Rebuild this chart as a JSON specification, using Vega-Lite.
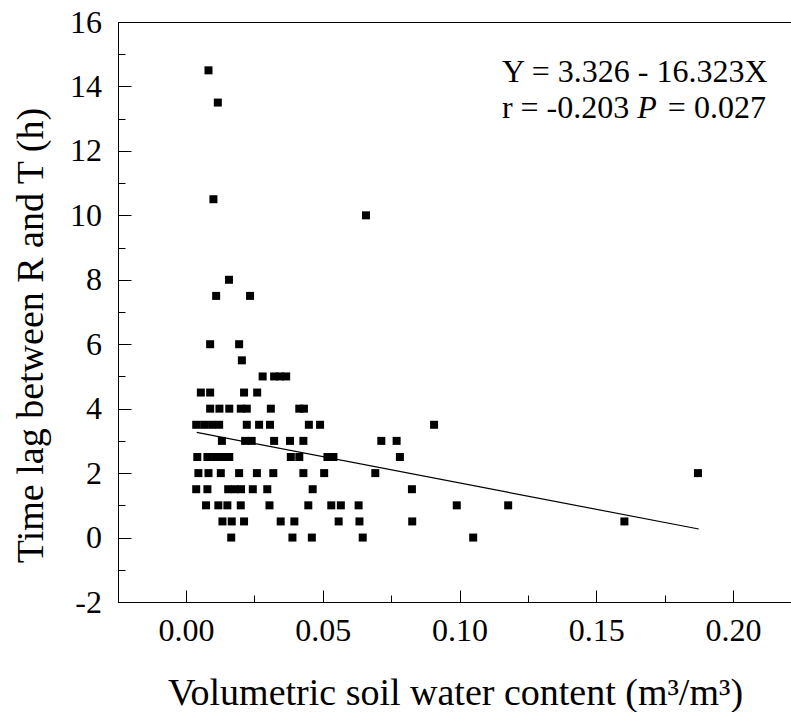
{
  "$schema": "https://vega.github.io/schema/vega-lite/v6.json",
  "width": 674,
  "height": 580,
  "autosize": {"type": "none"},
  "padding": {"left": 118, "top": 22, "right": 0, "bottom": 110},
  "background": "white",
  "config": {
    "view": {"stroke": "black", "strokeWidth": 1},
    "font": "Liberation Serif",
    "axis": {"labelFont": "Liberation Serif", "titleFont": "Liberation Serif", "labelFontSize": 32},
    "text": {"font": "Liberation Serif"}
  },
  "datasets": {
    "pts": [
      {"swc": 0.0082, "lag": 14.5},
      {"swc": 0.0116, "lag": 13.5},
      {"swc": 0.0100, "lag": 10.5},
      {"swc": 0.0658, "lag": 10},
      {"swc": 0.0157, "lag": 8},
      {"swc": 0.0110, "lag": 7.5},
      {"swc": 0.0234, "lag": 7.5},
      {"swc": 0.0088, "lag": 6},
      {"swc": 0.0194, "lag": 6},
      {"swc": 0.0204, "lag": 5.5},
      {"swc": 0.0280, "lag": 5},
      {"swc": 0.0322, "lag": 5},
      {"swc": 0.0344, "lag": 5},
      {"swc": 0.0366, "lag": 5},
      {"swc": 0.0054, "lag": 4.5},
      {"swc": 0.0088, "lag": 4.5},
      {"swc": 0.0212, "lag": 4.5},
      {"swc": 0.0260, "lag": 4.5},
      {"swc": 0.0088, "lag": 4},
      {"swc": 0.0122, "lag": 4},
      {"swc": 0.0158, "lag": 4},
      {"swc": 0.0200, "lag": 4},
      {"swc": 0.0222, "lag": 4},
      {"swc": 0.0310, "lag": 4},
      {"swc": 0.0414, "lag": 4},
      {"swc": 0.0431, "lag": 4},
      {"swc": 0.0037, "lag": 3.5},
      {"swc": 0.0066, "lag": 3.5},
      {"swc": 0.0095, "lag": 3.5},
      {"swc": 0.0121, "lag": 3.5},
      {"swc": 0.0222, "lag": 3.5},
      {"swc": 0.0267, "lag": 3.5},
      {"swc": 0.0307, "lag": 3.5},
      {"swc": 0.0449, "lag": 3.5},
      {"swc": 0.0490, "lag": 3.5},
      {"swc": 0.0907, "lag": 3.5},
      {"swc": 0.0131, "lag": 3},
      {"swc": 0.0216, "lag": 3},
      {"swc": 0.0240, "lag": 3},
      {"swc": 0.0322, "lag": 3},
      {"swc": 0.0380, "lag": 3},
      {"swc": 0.0429, "lag": 3},
      {"swc": 0.0714, "lag": 3},
      {"swc": 0.0770, "lag": 3},
      {"swc": 0.0041, "lag": 2.5},
      {"swc": 0.0078, "lag": 2.5},
      {"swc": 0.0106, "lag": 2.5},
      {"swc": 0.0134, "lag": 2.5},
      {"swc": 0.0158, "lag": 2.5},
      {"swc": 0.0383, "lag": 2.5},
      {"swc": 0.0414, "lag": 2.5},
      {"swc": 0.0517, "lag": 2.5},
      {"swc": 0.0539, "lag": 2.5},
      {"swc": 0.0782, "lag": 2.5},
      {"swc": 0.0045, "lag": 2},
      {"swc": 0.0082, "lag": 2},
      {"swc": 0.0127, "lag": 2},
      {"swc": 0.0194, "lag": 2},
      {"swc": 0.0259, "lag": 2},
      {"swc": 0.0319, "lag": 2},
      {"swc": 0.0429, "lag": 2},
      {"swc": 0.0505, "lag": 2},
      {"swc": 0.0692, "lag": 2},
      {"swc": 0.1872, "lag": 2},
      {"swc": 0.0037, "lag": 1.5},
      {"swc": 0.0078, "lag": 1.5},
      {"swc": 0.0154, "lag": 1.5},
      {"swc": 0.0178, "lag": 1.5},
      {"swc": 0.0201, "lag": 1.5},
      {"swc": 0.0244, "lag": 1.5},
      {"swc": 0.0297, "lag": 1.5},
      {"swc": 0.0463, "lag": 1.5},
      {"swc": 0.0826, "lag": 1.5},
      {"swc": 0.0073, "lag": 1},
      {"swc": 0.0118, "lag": 1},
      {"swc": 0.0151, "lag": 1},
      {"swc": 0.0200, "lag": 1},
      {"swc": 0.0305, "lag": 1},
      {"swc": 0.0447, "lag": 1},
      {"swc": 0.0531, "lag": 1},
      {"swc": 0.0566, "lag": 1},
      {"swc": 0.0631, "lag": 1},
      {"swc": 0.0990, "lag": 1},
      {"swc": 0.1178, "lag": 1},
      {"swc": 0.0133, "lag": 0.5},
      {"swc": 0.0167, "lag": 0.5},
      {"swc": 0.0212, "lag": 0.5},
      {"swc": 0.0346, "lag": 0.5},
      {"swc": 0.0396, "lag": 0.5},
      {"swc": 0.0558, "lag": 0.5},
      {"swc": 0.0634, "lag": 0.5},
      {"swc": 0.0827, "lag": 0.5},
      {"swc": 0.1603, "lag": 0.5},
      {"swc": 0.0165, "lag": 0},
      {"swc": 0.0389, "lag": 0},
      {"swc": 0.0460, "lag": 0},
      {"swc": 0.0646, "lag": 0},
      {"swc": 0.1050, "lag": 0}
    ],
    "fit": [
      {"swc": 0.0039, "lag": 3.262},
      {"swc": 0.1875, "lag": 0.265}
    ]
  },
  "encoding": {
    "x": {
      "field": "swc",
      "type": "quantitative",
      "scale": {"domain": [-0.0249, 0.2216], "nice": false, "zero": false},
      "axis": {
        "title": "Volumetric soil water content (m³/m³)",
        "titleFont": "Liberation Serif",
        "titleFontSize": 38,
        "titleFontWeight": "normal",
        "titleColor": "black",
        "titleBaseline": "alphabetic",
        "titleY": 102,
        "values": [0, 0.025, 0.05, 0.075, 0.1, 0.125, 0.15, 0.175, 0.2],
        "labelExpr": "abs(datum.value*20 - round(datum.value*20)) < 0.001 ? format(datum.value, '.2f') : ''",
        "labelFont": "Liberation Serif",
        "labelFontSize": 32,
        "labelColor": "black",
        "labelBaseline": "alphabetic",
        "labelPadding": 50,
        "labelFlush": false,
        "labelOverlap": false,
        "tickSize": {"condition": {"test": "abs(datum.value*20 - round(datum.value*20)) < 0.001", "value": -12}, "value": -7},
        "tickColor": "black",
        "tickWidth": 1,
        "domainColor": "black",
        "domainWidth": 1,
        "grid": false
      }
    },
    "y": {
      "field": "lag",
      "type": "quantitative",
      "scale": {"domain": [-2, 16], "nice": false, "zero": false},
      "axis": {
        "title": "Time lag between R and T (h)",
        "titleFont": "Liberation Serif",
        "titleFontSize": 38,
        "titleFontWeight": "normal",
        "titleColor": "black",
        "titleAngle": -90,
        "titleBaseline": "alphabetic",
        "titleAlign": "center",
        "titleX": -76,
        "titleY": 313,
        "values": [-2, -1, 0, 1, 2, 3, 4, 5, 6, 7, 8, 9, 10, 11, 12, 13, 14, 15, 16],
        "labelExpr": "datum.value % 2 === 0 ? (datum.value < 0 ? '-' + abs(datum.value) : '' + datum.value) : ''",
        "labelFont": "Liberation Serif",
        "labelFontSize": 32,
        "labelColor": "black",
        "labelBaseline": "middle",
        "labelPadding": 29.6,
        "labelFlush": false,
        "labelOverlap": false,
        "tickSize": {"condition": {"test": "datum.value % 2 === 0", "value": -13}, "value": -7},
        "tickColor": "black",
        "tickWidth": 1,
        "domainColor": "black",
        "domainWidth": 1,
        "grid": false
      }
    }
  },
  "layer": [
    {
      "data": {"name": "fit"},
      "mark": {"type": "line", "color": "black", "strokeWidth": 1.2}
    },
    {
      "data": {"name": "pts"},
      "mark": {"type": "point", "shape": "square", "filled": true, "color": "black", "opacity": 1, "size": 64, "strokeWidth": 0}
    },
    {
      "data": {"values": [{"swc": 0.1155, "lag": 14.15, "label": "Y = 3.326 - 16.323X"}, {"swc": 0.1155, "lag": 13.01, "label": "r = -0.203"}, {"swc": 0.1762, "lag": 13.01, "label": "= 0.027"}]},
      "mark": {"type": "text", "font": "Liberation Serif", "fontSize": 32, "color": "black", "align": "left", "baseline": "alphabetic"},
      "encoding": {"text": {"field": "label"}}
    },
    {
      "data": {"values": [{"swc": 0.1650, "lag": 13.01, "label": "P"}]},
      "mark": {"type": "text", "font": "Liberation Serif", "fontSize": 32, "fontStyle": "italic", "color": "black", "align": "left", "baseline": "alphabetic"},
      "encoding": {"text": {"field": "label"}}
    }
  ]
}
